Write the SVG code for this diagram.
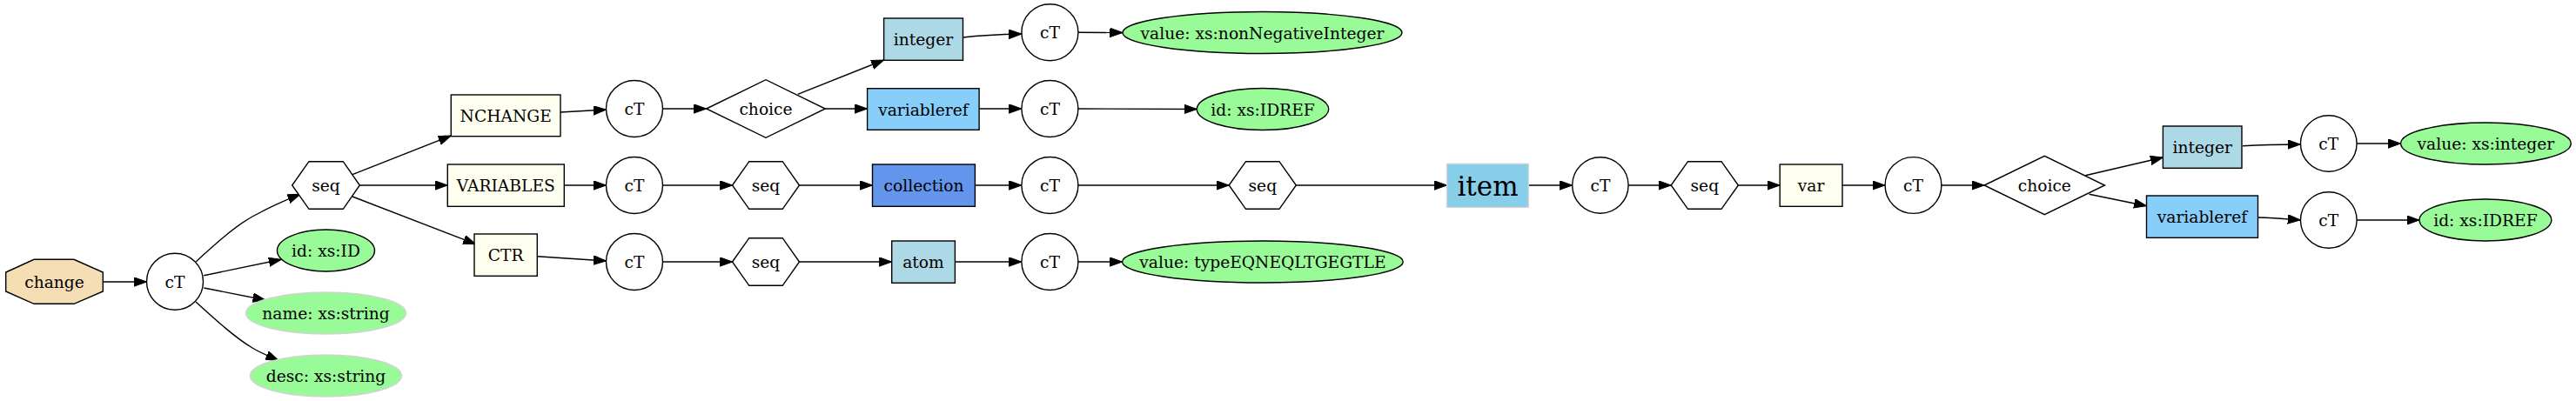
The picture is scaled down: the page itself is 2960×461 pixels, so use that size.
<svg xmlns="http://www.w3.org/2000/svg" width="2960" height="461" viewBox="0 0 2960 461">
<style>
text{font-family:"DejaVu Serif","Liberation Serif",serif;font-size:18.67px;text-anchor:middle;fill:#000}
.n{stroke:#000;stroke-width:1.4}
.w{fill:#fff}
.iv{fill:#fffff0}
.lb{fill:#add8e6}
.ls{fill:#87cefa}
.cf{fill:#6495ed}
.gr{fill:#98fb98}
.gl{fill:#98fb98;stroke:#d3d3d3;stroke-width:1.4}
.wh{fill:#f5deb3}
.sk{fill:#87ceeb;stroke:#d3d3d3;stroke-width:1.4}
.big{font-size:31px}
#edges path{fill:none;stroke:#000;stroke-width:1.4;marker-end:url(#ah)}
</style>
<defs>
<marker id="ah" markerUnits="userSpaceOnUse" markerWidth="16" markerHeight="12" refX="14.5" refY="5.2" orient="auto">
<path d="M0,0 L14.5,5.2 L0,10.4 z" fill="#000" stroke="#000" stroke-width="1"/>
</marker>
</defs>
<rect width="2960" height="461" fill="#fff"/>
<g id="edges">
<path d="M118.3,324 L168.5,324"/>
<path d="M225,301 C248,280 270,260 290,249 C308,239 325,231 345,223.3"/>
<path d="M234.3,316.7 L323.3,298.3"/>
<path d="M234.3,331 L305,345"/>
<path d="M225,347 C248,368 270,388 290,400 C300,406 310,410 320,414.3"/>
<path d="M405,200.7 L518.3,156"/>
<path d="M413.3,213 L514.3,213"/>
<path d="M405,226 L546.7,280.7"/>
<path d="M644,129 L696.5,126"/>
<path d="M761.5,125 L811.7,125"/>
<path d="M916.7,108.3 L1015.6,69"/>
<path d="M948.3,125 L996.6,125"/>
<path d="M648.3,213 L696.5,213"/>
<path d="M761.5,213 L841.7,213"/>
<path d="M918.3,213 L1002.5,213"/>
<path d="M617.3,294.7 L696.5,300"/>
<path d="M761.5,301 L841.7,301"/>
<path d="M918.3,301 L1024.7,301"/>
<path d="M1106.5,43 C1128,40.5 1150,39.5 1173.9,39"/>
<path d="M1125.1,125 L1173.9,125"/>
<path d="M1120.4,213 L1173.9,213"/>
<path d="M1097.4,301 L1173.9,301"/>
<path d="M1238.9,37.3 L1290,37.5"/>
<path d="M1238.9,125 L1375.3,125.5"/>
<path d="M1238.9,213 L1412.2,213"/>
<path d="M1238.9,301 L1289.6,301"/>
<path d="M1489.3,213 L1662.6,213"/>
<path d="M1756.3,213 L1806.7,213"/>
<path d="M1871.1,213 L1920.2,213"/>
<path d="M1997.4,213 L2045.2,213"/>
<path d="M2117,213 L2166,213"/>
<path d="M2231,213 L2280.1,213"/>
<path d="M2396.2,201.7 L2485.4,181"/>
<path d="M2400.6,223.3 L2466.5,236.7"/>
<path d="M2577,167.7 C2600,166.3 2620,166 2643.3,166"/>
<path d="M2594.8,250 C2615,250.5 2630,252 2643.3,253"/>
<path d="M2707.8,165 L2758.6,165"/>
<path d="M2707.8,253 L2780,253"/>
</g>
<g id="change"><polygon class="n wh" points="39,298.3 85,298.3 118.3,313 118.3,335 85,349.3 39,349.3 6.7,335 6.7,313"/><text x="62.5" y="331">change</text></g>
<g id="ct1"><circle class="n w" cx="201" cy="323.7" r="32.5"/><text x="201" y="330.7">cT</text></g>
<g id="seq1"><polygon class="n w" points="335.7,213 355,185.7 394.3,185.7 413.3,213 394.3,240.3 355,240.3"/><text x="374.5" y="220">seq</text></g>
<g id="attr_id"><ellipse class="n gr" cx="374.5" cy="288" rx="56" ry="24"/><text x="374.5" y="295">id: xs:ID</text></g>
<g id="attr_name"><ellipse class="gl" cx="374.5" cy="360" rx="92" ry="24"/><text x="374.5" y="367">name: xs:string</text></g>
<g id="attr_desc"><ellipse class="gl" cx="374.5" cy="432" rx="87" ry="24"/><text x="374.5" y="439">desc: xs:string</text></g>
<g id="nchange"><rect class="n iv" x="518.3" y="109" width="125.7" height="47.7"/><text x="581.2" y="140">NCHANGE</text></g>
<g id="variables"><rect class="n iv" x="514.3" y="189" width="134" height="48.3"/><text x="581.3" y="220">VARIABLES</text></g>
<g id="ctr"><rect class="n iv" x="545" y="269" width="72.3" height="48.3"/><text x="581.2" y="300">CTR</text></g>
<g id="ct2"><circle class="n w" cx="729" cy="125" r="32.5"/><text x="729" y="132">cT</text></g>
<g id="ct3"><circle class="n w" cx="729" cy="213" r="32.5"/><text x="729" y="220">cT</text></g>
<g id="ct4"><circle class="n w" cx="729" cy="301" r="32.5"/><text x="729" y="308">cT</text></g>
<g id="choice1"><polygon class="n w" points="811.7,125 880,91.7 948.3,125 880,158.3"/><text x="880" y="132">choice</text></g>
<g id="seq2"><polygon class="n w" points="841.5,213 860.8,185.7 899.2,185.7 918.5,213 899.2,240.3 860.8,240.3"/><text x="880" y="220">seq</text></g>
<g id="seq3"><polygon class="n w" points="841.5,301 860.8,273.7 899.2,273.7 918.5,301 899.2,328.3 860.8,328.3"/><text x="880" y="308">seq</text></g>
<g id="integer1"><rect class="n lb" x="1015.6" y="21" width="90.9" height="48.3"/><text x="1061" y="52">integer</text></g>
<g id="variableref1"><rect class="n ls" x="996.6" y="101.7" width="128.5" height="47.6"/><text x="1060.9" y="132.5">variableref</text></g>
<g id="collection"><rect class="n cf" x="1002.5" y="189" width="117.9" height="48.3"/><text x="1061.5" y="220">collection</text></g>
<g id="atom"><rect class="n lb" x="1024.7" y="277" width="72.7" height="48.3"/><text x="1061" y="308">atom</text></g>
<g id="ct5"><circle class="n w" cx="1206.4" cy="37.3" r="32.5"/><text x="1206.4" y="44.3">cT</text></g>
<g id="ct6"><circle class="n w" cx="1206.4" cy="125" r="32.5"/><text x="1206.4" y="132">cT</text></g>
<g id="ct7"><circle class="n w" cx="1206.4" cy="213" r="32.5"/><text x="1206.4" y="220">cT</text></g>
<g id="ct8"><circle class="n w" cx="1206.4" cy="301" r="32.5"/><text x="1206.4" y="308">cT</text></g>
<g id="attr_value_nni"><ellipse class="n gr" cx="1450.5" cy="37.5" rx="160.5" ry="24"/><text x="1450.5" y="44.5">value: xs:nonNegativeInteger</text></g>
<g id="attr_idref1"><ellipse class="n gr" cx="1451" cy="125.5" rx="75.7" ry="24"/><text x="1451" y="132.5">id: xs:IDREF</text></g>
<g id="seq4"><polygon class="n w" points="1412.2,213 1431.5,185.7 1470,185.7 1489.3,213 1470,240.3 1431.5,240.3"/><text x="1450.8" y="220">seq</text></g>
<g id="attr_value_type"><ellipse class="n gr" cx="1450.9" cy="301" rx="161.3" ry="24"/><text x="1450.9" y="308">value: typeEQNEQLTGEGTLE</text></g>
<g id="item"><rect class="sk" x="1662.6" y="188.3" width="93.7" height="50"/><text class="big" x="1709.5" y="225">item</text></g>
<g id="ct9"><circle class="n w" cx="1838.9" cy="213" r="32.2"/><text x="1838.9" y="220">cT</text></g>
<g id="seq5"><polygon class="n w" points="1920.2,213 1939.5,185.7 1978,185.7 1997.4,213 1978,240.3 1939.5,240.3"/><text x="1958.8" y="220">seq</text></g>
<g id="var"><rect class="n iv" x="2045.2" y="189" width="71.8" height="48.3"/><text x="2081.1" y="220">var</text></g>
<g id="ct10"><circle class="n w" cx="2198.5" cy="213" r="32.4"/><text x="2198.5" y="220">cT</text></g>
<g id="choice2"><polygon class="n w" points="2280.1,213 2349.3,179.3 2418.5,213 2349.3,246.7"/><text x="2349.3" y="220">choice</text></g>
<g id="integer2"><rect class="n lb" x="2485.4" y="145" width="90.6" height="48.3"/><text x="2530.7" y="176">integer</text></g>
<g id="variableref2"><rect class="n ls" x="2466.5" y="225" width="128" height="48.3"/><text x="2530.5" y="256">variableref</text></g>
<g id="ct11"><circle class="n w" cx="2675.8" cy="165" r="32.3"/><text x="2675.8" y="172">cT</text></g>
<g id="ct12"><circle class="n w" cx="2675.8" cy="253" r="32.3"/><text x="2675.8" y="260">cT</text></g>
<g id="attr_value_int"><ellipse class="n gr" cx="2856.4" cy="165" rx="97.8" ry="24"/><text x="2856.4" y="172">value: xs:integer</text></g>
<g id="attr_idref2"><ellipse class="n gr" cx="2855.9" cy="253" rx="75.9" ry="24"/><text x="2855.9" y="260">id: xs:IDREF</text></g>
</svg>
